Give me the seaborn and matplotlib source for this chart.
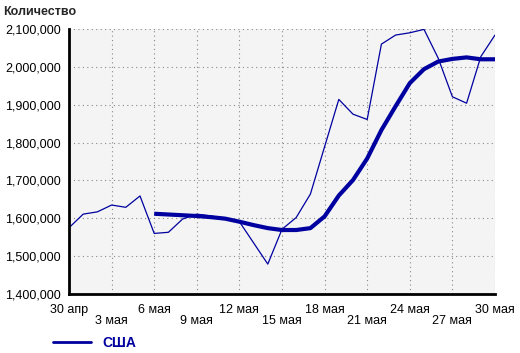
import matplotlib
matplotlib.use("Agg")
import matplotlib.pyplot as plt
import seaborn as sns
import pandas as pd
from matplotlib.lines import Line2D
from matplotlib.ticker import FuncFormatter, MultipleLocator

# Days since 30 April
days = list(range(31))
usa = [1575000, 1611000, 1617000, 1635000, 1629000, 1659000, 1560000, 1563000,
       1598000, 1611000, 1606000, 1598000, 1591000, 1535000, 1479000, 1571000,
       1602000, 1664000, 1789000, 1914000, 1875000, 1861000, 2060000, 2084000,
       2090000, 2099000, 2023000, 1921000, 1904000, 2027000, 2084000]
avg_days = list(range(6, 31))
usa_avg = [1612000, 1610000, 1608000, 1606000, 1603000, 1599000, 1591000,
           1582000, 1574000, 1569000, 1569000, 1574000, 1605000, 1660000,
           1701000, 1758000, 1833000, 1896000, 1957000, 1994000, 2014000,
           2021000, 2025000, 2020000, 2020000]
tick_days = [0, 3, 6, 9, 12, 15, 18, 21, 24, 27, 30]
tick_labels = ["30 апр", "3 мая", "6 мая", "9 мая", "12 мая", "15 мая",
               "18 мая", "21 мая", "24 мая", "27 мая", "30 мая"]
y_title = "Количество"
series_name = "США"

sns.set_style("white")
plt.rcParams['font.family'] = ['Liberation Sans', 'DejaVu Sans']

color = '#0000A0'
fig = plt.figure(figsize=(5.2, 3.53), dpi=100)
ax = fig.add_axes([69/520, 1-294/353, (495-69)/520, (294-29)/353])
ax.set_facecolor('#F4F4F4')

df = pd.DataFrame({'day': days, 'value': usa})
dfa = pd.DataFrame({'day': avg_days, 'value': usa_avg})
sns.lineplot(data=df, x='day', y='value', ax=ax, color=color, linewidth=0.9)
sns.lineplot(data=dfa, x='day', y='value', ax=ax, color=color, linewidth=3.0,
             solid_capstyle='butt')

ax.set_xlim(0, 30)
ax.set_ylim(1400000, 2100000)
ax.yaxis.set_major_locator(MultipleLocator(100000))
ax.yaxis.set_major_formatter(FuncFormatter(lambda v, p: f"{int(v):,}"))
ax.set_xticks(tick_days)
ax.set_xticklabels([("" if i % 2 == 0 else "\n") + t for i, t in enumerate(tick_labels)],
                   linespacing=0.95)
ax.set_xlabel("")
ax.set_ylabel("")
ax.grid(True, color='#888888', linestyle=(0, (1, 3)), linewidth=0.8)
for s in ['top', 'right']:
    ax.spines[s].set_visible(False)
for s in ['left', 'bottom']:
    ax.spines[s].set_color('black')
    ax.spines[s].set_linewidth(2)
ax.tick_params(axis='both', which='major', length=4, width=1, color='black',
               labelsize=9, labelcolor='black', direction='out', pad=2)
ax.tick_params(axis='x', pad=3)

fig.text(3/520, 1-12/353, y_title, fontsize=9, fontweight='bold', va='center', ha='left')

handle = Line2D([], [], color=color, linewidth=2)
leg = fig.legend([handle], [series_name], loc='center left',
                 bbox_to_anchor=(40/520, 1-343/353), frameon=False,
                 handlelength=2.8, fontsize=10, handletextpad=0.8)
for t in leg.get_texts():
    t.set_color(color)
    t.set_fontweight('bold')

fig.savefig("out.png", dpi=100)
